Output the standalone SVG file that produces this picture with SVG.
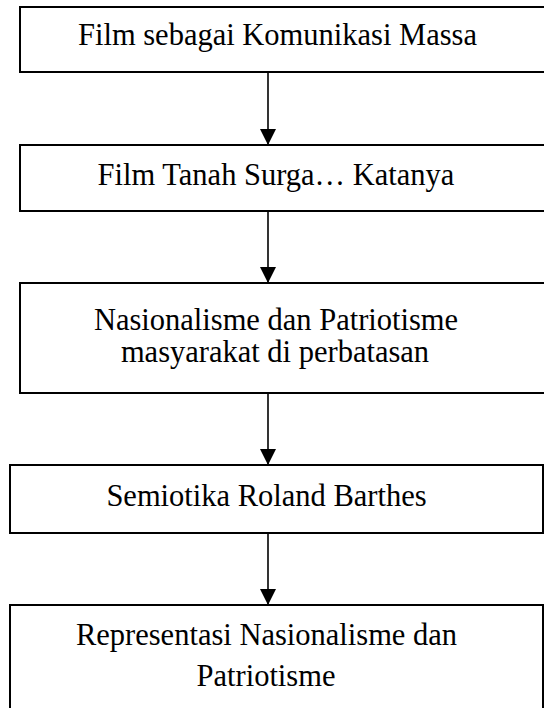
<svg xmlns="http://www.w3.org/2000/svg" width="544" height="708" viewBox="0 0 544 708">
<style>
.box{fill:#fff;stroke:#000;stroke-width:2}
.t{font-family:"Liberation Serif","Times New Roman",serif;font-size:30.5px;fill:#000;text-anchor:middle}
.c{stroke:#000;stroke-width:1.6;fill:none}
</style>
<defs>
<marker id="ah" markerUnits="userSpaceOnUse" markerWidth="16" markerHeight="16" refX="16" refY="8" orient="auto" viewBox="0 0 16 16">
<path d="M0,0 L16,8 L0,16 Z" fill="#000"/>
</marker>
</defs>
<rect width="544" height="708" fill="#fff"/>
<g id="n1"><rect class="box" x="20" y="7" width="540" height="65"/><text class="t" x="277.5" y="45">Film sebagai Komunikasi Massa</text></g>
<g id="n2"><rect class="box" x="20" y="145" width="540" height="66"/><text class="t" x="276" y="185">Film Tanah Surga… Katanya</text></g>
<g id="n3"><rect class="box" x="20" y="283" width="540" height="110"/><text class="t" x="276" y="330">Nasionalisme dan Patriotisme</text><text class="t" x="275" y="362">masyarakat di perbatasan</text></g>
<g id="n4"><rect class="box" x="10" y="465" width="533" height="68"/><text class="t" x="266.5" y="506">Semiotika Roland Barthes</text></g>
<g id="n5"><rect class="box" x="10" y="605" width="533" height="120"/><text class="t" x="266.5" y="645">Representasi Nasionalisme dan</text><text class="t" x="266" y="686">Patriotisme</text></g>
<g id="connectors">
<line class="c" x1="268" y1="72" x2="268" y2="145" marker-end="url(#ah)"/>
<line class="c" x1="268" y1="211" x2="268" y2="283" marker-end="url(#ah)"/>
<line class="c" x1="268" y1="393" x2="268" y2="465" marker-end="url(#ah)"/>
<line class="c" x1="268" y1="533" x2="268" y2="605" marker-end="url(#ah)"/>
</g>
</svg>
